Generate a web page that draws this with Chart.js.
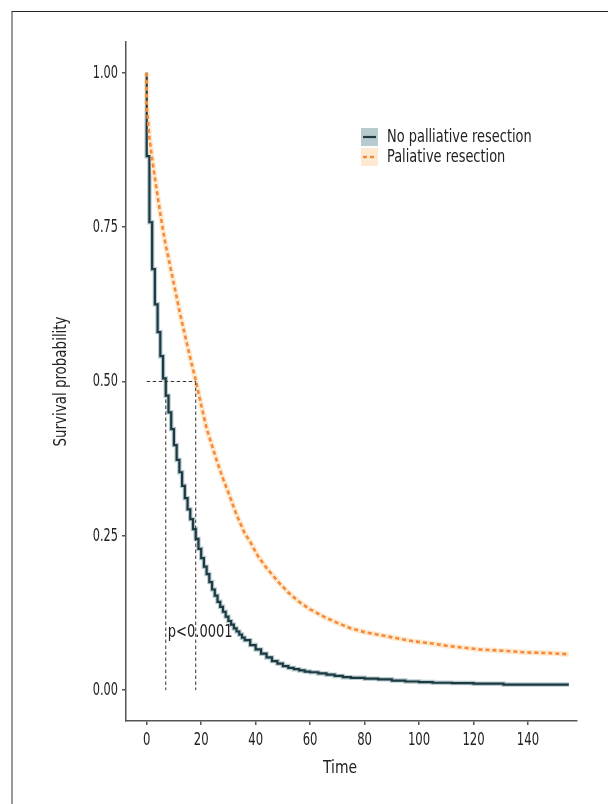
<!DOCTYPE html>
<html>
<head>
<meta charset="utf-8">
<script src="https://cdn.jsdelivr.net/npm/chart.js@4"></script>
<style>
  html,body{margin:0;padding:0;background:#fff;}
  #wrap{position:relative;width:608px;height:804px;overflow:hidden;}
  #frame{position:absolute;left:11px;top:11px;width:620px;height:820px;
         border-top:1px solid #222;border-left:2px solid #999;}
  canvas{position:absolute;left:0;top:0;}
</style>
</head>
<body>
<div id="wrap">
  <div id="frame"></div>
  <canvas id="km" width="608" height="804"></canvas>
</div>
<script>
/* ---------- data ---------- */
const seriesNames = ["No palliative resection", "Paliative resection"];
const xTitle = "Time";
const yTitle = "Survival probability";

// no palliative resection (step curve)
const noResTime = [0,0,1,2,3,4,5,6,7,8,9,10,11,12,13,14,15,16,17,18,19,20,21,22,23,24,25,26,27,28,29,30,
                   31,32,33,34,35,36,38,40,42,44,46,48,50,52,54,56,58,60,63,66,69,72,75,80,85,90,95,100,
                   105,112,120,131,155];
const noResSurv = [1,0.865,0.758,0.682,0.625,0.580,0.541,0.505,0.477,0.450,0.423,0.397,0.373,0.353,0.331,0.311,
                   0.293,0.277,0.261,0.245,0.229,0.214,0.200,0.188,0.175,0.163,0.153,0.143,0.135,0.127,0.119,0.112,
                   0.106,0.100,0.095,0.090,0.085,0.081,0.073,0.066,0.059,0.053,0.047,0.043,0.039,0.036,0.034,
                   0.032,0.030,0.029,0.027,0.025,0.023,0.021,0.020,0.0185,0.0175,0.0155,0.014,0.013,
                   0.012,0.0115,0.0105,0.009,0.009];

// palliative resection (fine steps, drawn as a smooth dashed line)
const resTime = [0,0,1,2,3,4,5,6,7,8,10,12,14,16,18,20,22,24,26,28,30,33,36,38,41,44,48,52,56,60,65,70,75,80,
                 86,92,98,104,110,116,122,130,140,148,155];
const resSurv = [1,0.947,0.895,0.860,0.830,0.800,0.772,0.745,0.720,0.700,0.658,0.615,0.576,0.538,0.502,0.462,
                 0.424,0.396,0.368,0.343,0.320,0.284,0.254,0.240,0.216,0.198,0.177,0.158,0.143,0.131,0.119,
                 0.109,0.100,0.094,0.089,0.084,0.079,0.076,0.072,0.069,0.066,0.064,0.061,0.060,0.058];

const medianLevel = 0.5;
const medianTimes = [7, 18];
const pValueText = "p<0.0001";

const xTicks = [0,20,40,60,80,100,120,140];
const yTicks = [0,0.25,0.5,0.75,1];

/* ---------- styles ---------- */
const FONT = "'DejaVu Sans Condensed', 'DejaVu Sans', sans-serif";
const col = {
  dark: "#1d3a43", darkBand: "#b7cbcf",
  orange: "#f7893a", orangeBand: "#feead0",
  axis: "#555", text: "#222"
};

const pts = (xs, ys) => xs.map((x, i) => ({x, y: ys[i]}));

const medianH = [{x: 0, y: medianLevel}, {x: Math.max(...medianTimes), y: medianLevel}];
const medianV = medianTimes.map(t => [{x: t, y: medianLevel}, {x: t, y: 0}]);

const lineDs = (data, o) => Object.assign({
  data, showLine: true, pointRadius: 0, pointHoverRadius: 0, fill: false, tension: 0
}, o);

const datasets = [
  lineDs(medianH, {borderColor: "#333", borderWidth: 1, borderDash: [3.5, 2.5], order: 0}),
  ...medianV.map(d => lineDs(d, {borderColor: "#333", borderWidth: 1, borderDash: [3.5, 2.5], order: 0})),
  lineDs(pts(resTime, resSurv), {borderColor: col.orange, borderWidth: 2.6, borderDash: [4, 3], order: 1}),
  lineDs(pts(noResTime, noResSurv), {borderColor: col.dark, borderWidth: 2.2, stepped: true, order: 2}),
  lineDs(pts(resTime, resSurv), {borderColor: col.orangeBand, borderWidth: 5.5, order: 3}),
  lineDs(pts(noResTime, noResSurv), {borderColor: col.darkBand, borderWidth: 4.5, stepped: true, order: 4}),
];

/* condensed text: the plot's font is much narrower than anything installed */
const txt = (ctx, s, x, y, size, sx, align = "left", rot = false) => {
  ctx.save();
  ctx.translate(x, y);
  if (rot) ctx.rotate(-Math.PI / 2);
  ctx.scale(sx, 1);
  ctx.font = `${size}px ${FONT}`;
  ctx.textAlign = align;
  ctx.textBaseline = "middle";
  ctx.fillText(s, 0, 0);
  ctx.restore();
};

/* ---------- tick labels, titles, legend, p-value ---------- */
const extras = {
  id: "extras",
  afterDraw(chart) {
    const {ctx, chartArea: a, scales: {x, y}} = chart;
    ctx.save();
    ctx.fillStyle = col.text;

    x.ticks.forEach(t => txt(ctx, String(t.value), x.getPixelForValue(t.value), a.bottom + 19, 18.5, 0.7, "center"));
    y.ticks.forEach(t => txt(ctx, t.value.toFixed(2), a.left - 8, y.getPixelForValue(t.value), 18.5, 0.68, "right"));

    txt(ctx, xTitle, x.getPixelForValue(71), a.bottom + 47, 18, 0.86, "center");
    txt(ctx, yTitle, 61, (a.top + a.bottom) / 2, 18, 0.83, "center", true);

    txt(ctx, pValueText, x.getPixelForValue(7.7), y.getPixelForValue(0.093), 17.5, 0.83);

    // legend
    const bx = 361, bw = 17, bh = 18, rows = [128, 148];
    ctx.fillStyle = col.darkBand;
    ctx.fillRect(bx, rows[0], bw, bh);
    ctx.strokeStyle = col.dark; ctx.lineWidth = 2.2; ctx.setLineDash([]);
    ctx.beginPath(); ctx.moveTo(bx + 2, rows[0] + bh / 2); ctx.lineTo(bx + bw - 2, rows[0] + bh / 2); ctx.stroke();
    ctx.fillStyle = col.orangeBand;
    ctx.fillRect(bx, rows[1], bw, bh);
    ctx.strokeStyle = col.orange; ctx.lineWidth = 2.6; ctx.setLineDash([4, 3]);
    ctx.beginPath(); ctx.moveTo(bx + 2, rows[1] + bh / 2); ctx.lineTo(bx + bw - 2, rows[1] + bh / 2); ctx.stroke();
    ctx.setLineDash([]);
    ctx.fillStyle = col.text;
    seriesNames.forEach((n, i) => txt(ctx, n, 387, rows[i] + bh / 2, 18, 0.8));
    ctx.restore();
  }
};

new Chart(document.getElementById("km"), {
  type: "scatter",
  data: {datasets},
  options: {
    responsive: false, animation: false,
    layout: {padding: {top: 42, right: 31, left: 0, bottom: 0}},
    plugins: {legend: {display: false}, tooltip: {enabled: false}},
    scales: {
      x: {
        type: "linear", min: -7.6, max: 158,
        afterFit: s => { s.height = 83; },
        afterBuildTicks: s => { s.ticks = xTicks.map(v => ({value: v})); },
        grid: {drawOnChartArea: false, drawTicks: true, tickLength: 4, color: col.axis, lineWidth: 1.5},
        border: {display: true, color: col.axis, width: 1.5},
        ticks: {display: false}
      },
      y: {
        type: "linear", min: -0.05, max: 1.05,
        afterFit: s => { s.width = 126; },
        afterBuildTicks: s => { s.ticks = yTicks.map(v => ({value: v})); },
        grid: {drawOnChartArea: false, drawTicks: true, tickLength: 4, color: col.axis, lineWidth: 1.5},
        border: {display: true, color: col.axis, width: 1.5},
        ticks: {display: false}
      }
    }
  },
  plugins: [extras]
});
</script>
</body>
</html>
